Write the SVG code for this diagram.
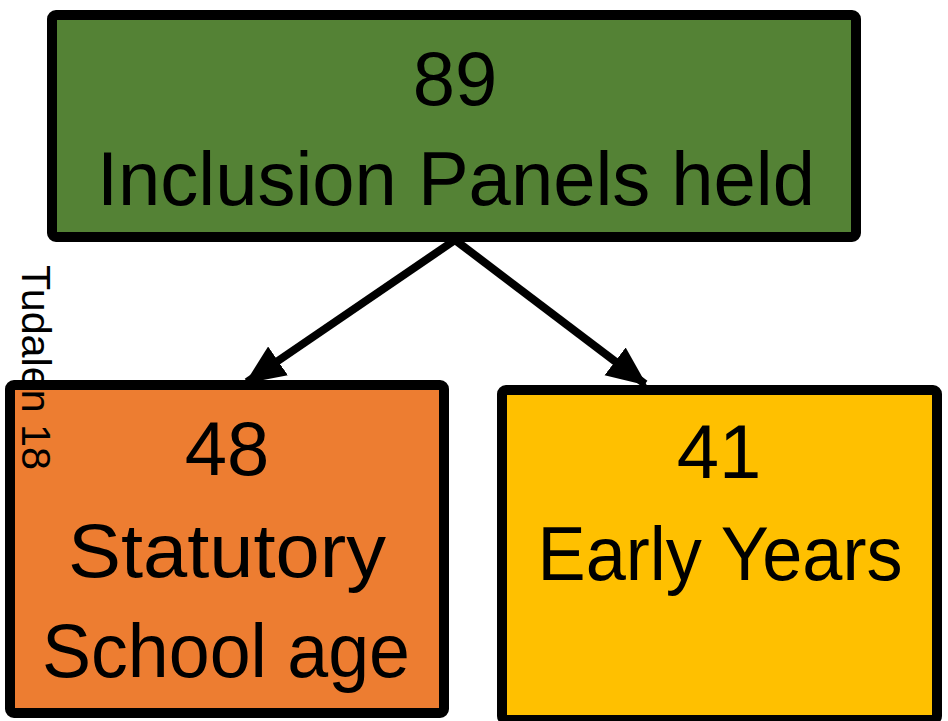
<svg xmlns="http://www.w3.org/2000/svg" width="948" height="721" viewBox="0 0 948 721">
<style>
.box{stroke:#000;stroke-width:10;}
.t{font-family:"Liberation Sans",Arial,sans-serif;font-size:76px;fill:#000;text-anchor:middle;}
.conn{stroke:#000;stroke-width:8;fill:none;}
</style>
<defs>
<marker id="ah" markerUnits="userSpaceOnUse" markerWidth="40" markerHeight="40" viewBox="0 0 32 32" refX="30" refY="16" orient="auto">
<polygon points="0,2 32,16 0,30" fill="#000"/>
</marker>
</defs>
<rect width="948" height="721" fill="#fff"/>
<g id="connectors">
<line class="conn" x1="455" y1="240" x2="247" y2="382" marker-end="url(#ah)"/>
<line class="conn" x1="455" y1="240" x2="645" y2="384" marker-end="url(#ah)"/>
</g>
<g id="node-total">
<rect class="box" x="52" y="15" width="804" height="222" rx="4" fill="#548235"/>
<text class="t" x="455" y="105">89</text>
<text class="t" x="456" y="205" textLength="718" lengthAdjust="spacingAndGlyphs">Inclusion Panels held</text>
</g>
<g id="node-school">
<rect class="box" x="10" y="385" width="434" height="328" rx="4" fill="#ED7D31"/>
<text class="t" x="227" y="475">48</text>
<text class="t" x="227" y="577" textLength="318" lengthAdjust="spacingAndGlyphs">Statutory</text>
<text class="t" x="226" y="677" textLength="368" lengthAdjust="spacingAndGlyphs">School age</text>
</g>
<g id="node-early">
<rect class="box" x="502" y="390" width="435" height="330" rx="4" fill="#FFC000"/>
<text class="t" x="719" y="478">41</text>
<text class="t" x="720" y="580" textLength="365" lengthAdjust="spacingAndGlyphs">Early Years</text>
</g>
<g id="page-label">
<text transform="translate(22,265) rotate(90)" style="font-family:'Liberation Sans',Arial,sans-serif;font-size:41px;fill:#000;" textLength="205" lengthAdjust="spacingAndGlyphs">Tudalen 18</text>
</g>
</svg>
